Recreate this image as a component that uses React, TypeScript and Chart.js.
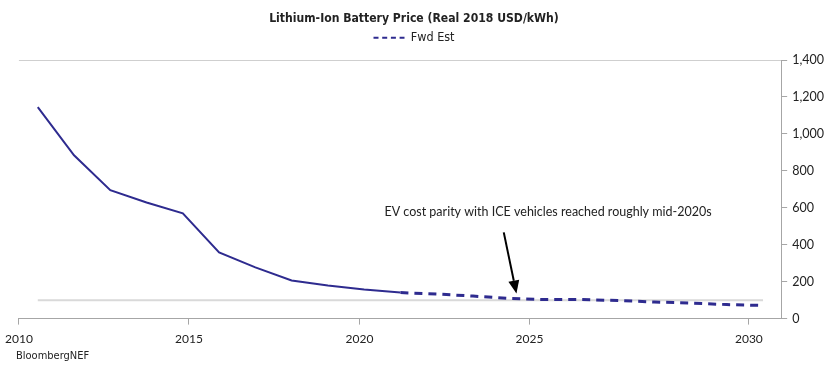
import React, { useEffect, useRef } from "react";
import { Chart, registerables } from "chart.js";

Chart.register(...registerables);

// ---- data ----
const years = [2010, 2011, 2012, 2013, 2014, 2015, 2016, 2017, 2018, 2019, 2020, 2021, 2022, 2023, 2024, 2025, 2026, 2027, 2028, 2029, 2030];
const historicalYears = [2010, 2011, 2012, 2013, 2014, 2015, 2016, 2017, 2018, 2019, 2020];
const historicalPrice = [1145, 884, 695, 629, 570, 358, 277, 206, 179, 157, 141];
const forecastYears = [2020, 2021, 2022, 2023, 2024, 2025, 2026, 2027, 2028, 2029, 2030];
const forecastPrice = [141, 133, 122, 109, 103, 103, 98, 90, 84, 76, 71];
const iceParityPrice = 100;

// x tick labels and where the source chart put them (in year units)
const xTickLabels = ["2010", "2015", "2020", "2025", "2030"];
const xTickPositions = [2009.48, 2014.17, 2018.87, 2023.56, 2029.61];
const yTickValues = [0, 200, 400, 600, 800, 1000, 1200, 1400];

const titleText = "Lithium-Ion Battery Price (Real 2018 USD/kWh)";
const legendText = "Fwd Est";
const annotationText = "EV cost parity with ICE vehicles reached roughly mid-2020s";
const annotationTextAt = { x: 2019.56, y: 575 };
const annotationArrowFrom = { x: 2022.85, y: 467 };
const annotationArrowTo = { x: 2023.2, y: 136 };
const sourceText = "BloombergNEF";

const LINE_COLOR = "#2e2b8f";
const GRAY = "#d9d9d9";
const AXIS = "#a6a6a6";
const TEXT = "#222222";
const NARROW = '"Liberation Sans Narrow", "DejaVu Sans Condensed", "Noto Sans", sans-serif';
const BODY = 'Lato, "Noto Sans", sans-serif';

const legendSpacer = {
  id: "legendSpacer",
  beforeInit(chart: any) {
    const legend = chart.legend;
    if (!legend) return;
    const origFit = legend.fit;
    legend.fit = function () {
      origFit.call(this);
      this.height += 6;
    };
  },
};

const annotationPlugin = {
  id: "annotationPlugin",
  afterDatasetsDraw(chart: any) {
    const ctx = chart.ctx;
    const xs = chart.scales.x;
    const ys = chart.scales.y;
    ctx.save();
    ctx.fillStyle = TEXT;
    ctx.font = `12.5px ${BODY}`;
    ctx.textAlign = "left";
    ctx.textBaseline = "middle";
    ctx.fillText(annotationText, xs.getPixelForValue(annotationTextAt.x), ys.getPixelForValue(annotationTextAt.y));

    const x1 = xs.getPixelForValue(annotationArrowFrom.x);
    const y1 = ys.getPixelForValue(annotationArrowFrom.y);
    const x2 = xs.getPixelForValue(annotationArrowTo.x);
    const y2 = ys.getPixelForValue(annotationArrowTo.y);
    const ang = Math.atan2(y2 - y1, x2 - x1);
    const headLen = 13;
    const headW = 5.5;
    const bx = x2 - headLen * Math.cos(ang);
    const by = y2 - headLen * Math.sin(ang);
    ctx.strokeStyle = "#000";
    ctx.lineWidth = 2;
    ctx.beginPath();
    ctx.moveTo(x1, y1);
    ctx.lineTo(bx, by);
    ctx.stroke();
    ctx.fillStyle = "#000";
    ctx.beginPath();
    ctx.moveTo(x2, y2);
    ctx.lineTo(bx + headW * Math.sin(ang), by - headW * Math.cos(ang));
    ctx.lineTo(bx - headW * Math.sin(ang), by + headW * Math.cos(ang));
    ctx.closePath();
    ctx.fill();

    ctx.font = `11px ${NARROW}`;
    ctx.fillStyle = TEXT;
    ctx.textAlign = "left";
    ctx.textBaseline = "middle";
    ctx.fillText(sourceText, 18, 356);
    ctx.restore();
  },
};

export default function App() {
  const canvasRef = useRef<HTMLCanvasElement | null>(null);

  useEffect(() => {
    if (!canvasRef.current) return;
    const toPts = (xsArr: number[], ysArr: number[]) => xsArr.map((x, i) => ({ x, y: ysArr[i] }));
    const chart = new Chart(canvasRef.current, {
      type: "line",
      data: {
        datasets: [
          {
            label: "Historical",
            data: toPts(historicalYears, historicalPrice),
            borderColor: LINE_COLOR,
            backgroundColor: LINE_COLOR,
            borderWidth: 2,
            pointRadius: 0,
            tension: 0,
          },
          {
            label: legendText,
            data: toPts(forecastYears, forecastPrice),
            borderColor: LINE_COLOR,
            backgroundColor: LINE_COLOR,
            borderWidth: 3,
            borderDash: [8, 6],
            pointRadius: 0,
            tension: 0,
          },
          {
            label: "ICE parity",
            data: toPts(years, years.map(() => iceParityPrice)),
            borderColor: GRAY,
            backgroundColor: GRAY,
            borderWidth: 2,
            pointRadius: 0,
          },
        ],
      },
      options: {
        animation: false,
        responsive: false,
        maintainAspectRatio: false,
        layout: { padding: { left: 1, right: 11, top: 0, bottom: 30 } },
        plugins: {
          tooltip: { enabled: false },
          title: {
            display: true,
            text: titleText,
            color: TEXT,
            font: { family: NARROW, size: 12.1, weight: "bold" },
            padding: { top: 12, bottom: 0 },
          },
          legend: {
            display: true,
            position: "top",
            align: "center",
            labels: {
              color: TEXT,
              font: { family: NARROW, size: 12.5 },
              usePointStyle: true,
              pointStyle: "line",
              pointStyleWidth: 31,
              padding: 5,
              generateLabels: (chart: any) =>
                (Chart.defaults.plugins.legend.labels.generateLabels as any)(chart)
                  .filter((l: any) => l.text === legendText)
                  .map((l: any) => ({ ...l, lineDash: [5, 3.7], lineWidth: 2, pointStyle: "line" })),
            },
          },
        },
        scales: {
          x: {
            type: "linear",
            min: 2009.48,
            max: 2030.5,
            afterBuildTicks: (scale: any) => {
              scale.ticks = xTickPositions.map((v) => ({ value: v }));
            },
            ticks: {
              color: TEXT,
              font: { family: BODY, size: 12 },
              maxRotation: 0,
              autoSkip: false,
              padding: 7,
              callback: (_v: any, i: number) => xTickLabels[i],
            },
            grid: {
              drawOnChartArea: false,
              drawTicks: true,
              tickLength: 6,
              tickColor: AXIS,
              color: AXIS,
            },
            border: { display: true, color: AXIS, width: 1 },
          },
          y: {
            position: "right",
            min: 0,
            max: 1400,
            afterBuildTicks: (scale: any) => {
              scale.ticks = yTickValues.map((v) => ({ value: v }));
            },
            ticks: {
              color: TEXT,
              font: { family: BODY, size: 12.5 },
              padding: 5,
              callback: (v: any) => Number(v).toLocaleString("en-US"),
            },
            grid: {
              drawTicks: true,
              tickLength: 6,
              tickColor: AXIS,
              color: (c: any) => (c.tick && c.tick.value === 1400 ? "#cfcfcf" : "rgba(0,0,0,0)"),
            },
            border: { display: true, color: AXIS, width: 1 },
          },
        },
      },
      plugins: [legendSpacer, annotationPlugin],
    });
    return () => chart.destroy();
  }, []);

  return (
    <div style={{ position: "absolute", left: -2, top: 0, width: 842, height: 383, background: "#fff" }}>
      <canvas ref={canvasRef} width={842} height={383} style={{ display: "block", width: 842, height: 383 }} />
    </div>
  );
}
